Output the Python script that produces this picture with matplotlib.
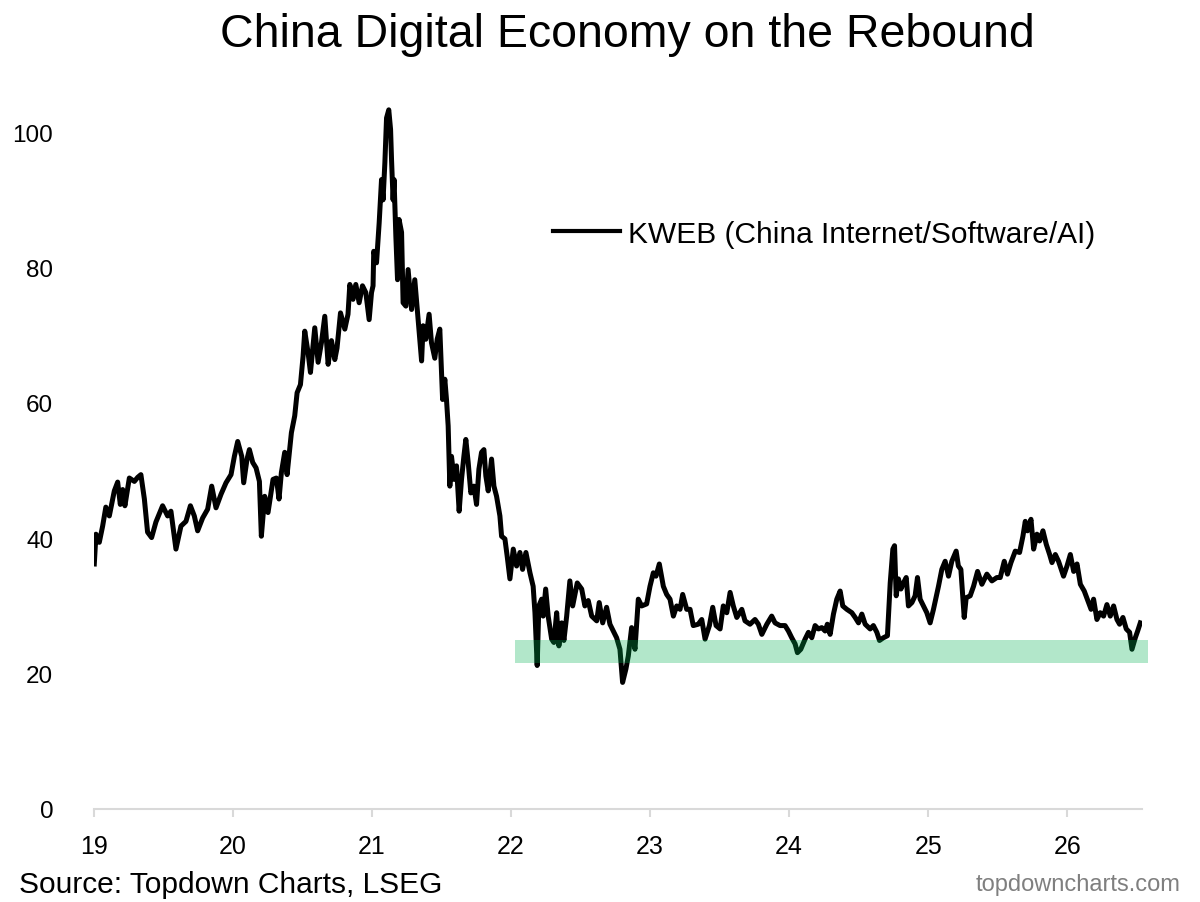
import matplotlib
matplotlib.use("Agg")
import matplotlib.pyplot as plt
from matplotlib.lines import Line2D

plt.rcParams['font.family'] = ['Liberation Sans', 'DejaVu Sans']

# ---- data (decimal year offsets since start of 2019, KWEB price) ----
t_offset = [
    0.005, 0.017, 0.041, 0.065, 0.088, 0.113, 0.149, 0.173, 0.192, 0.209,
    0.225, 0.257, 0.293, 0.317, 0.340, 0.365, 0.388, 0.417, 0.448, 0.496,
    0.532, 0.556, 0.592, 0.628, 0.664, 0.696, 0.724, 0.748, 0.784, 0.820,
    0.849, 0.880, 0.916, 0.952, 0.988, 1.012, 1.036, 1.065, 1.079, 1.103,
    1.120, 1.144, 1.168, 1.192, 1.206, 1.230, 1.254, 1.290, 1.314, 1.333,
    1.350, 1.374, 1.391, 1.422, 1.446, 1.463, 1.487, 1.506, 1.518, 1.542,
    1.559, 1.590, 1.614, 1.638, 1.662, 1.686, 1.710, 1.734, 1.750, 1.775,
    1.806, 1.829, 1.842, 1.865, 1.885, 1.909, 1.933, 1.957, 1.981, 1.998,
    2.009, 2.014, 2.034, 2.053, 2.070, 2.081, 2.094, 2.106, 2.122, 2.135,
    2.142, 2.153, 2.160, 2.173, 2.185, 2.196, 2.214, 2.225, 2.245, 2.261,
    2.286, 2.309, 2.333, 2.358, 2.369, 2.388, 2.412, 2.429, 2.453, 2.470,
    2.489, 2.509, 2.525, 2.537, 2.549, 2.561, 2.573, 2.592, 2.609, 2.628,
    2.645, 2.662, 2.676, 2.693, 2.712, 2.734, 2.753, 2.770, 2.789, 2.806,
    2.820, 2.837, 2.861, 2.878, 2.897, 2.921, 2.933, 2.957, 2.973, 2.993,
    3.017, 3.041, 3.065, 3.084, 3.108, 3.137, 3.160, 3.173, 3.189, 3.201,
    3.221, 3.232, 3.250, 3.268, 3.293, 3.309, 3.329, 3.345, 3.365, 3.381,
    3.401, 3.424, 3.444, 3.477, 3.509, 3.532, 3.556, 3.581, 3.617, 3.635,
    3.660, 3.688, 3.712, 3.736, 3.760, 3.784, 3.803, 3.827, 3.844, 3.868,
    3.892, 3.916, 3.940, 3.976, 4.000, 4.024, 4.043, 4.067, 4.096, 4.120,
    4.144, 4.168, 4.192, 4.216, 4.235, 4.264, 4.288, 4.311, 4.347, 4.372,
    4.396, 4.427, 4.451, 4.475, 4.504, 4.527, 4.552, 4.576, 4.599, 4.624,
    4.660, 4.683, 4.719, 4.755, 4.779, 4.804, 4.840, 4.875, 4.899, 4.935,
    4.971, 4.995, 5.019, 5.043, 5.060, 5.084, 5.115, 5.139, 5.163, 5.187,
    5.211, 5.235, 5.259, 5.275, 5.295, 5.319, 5.343, 5.367, 5.386, 5.415,
    5.451, 5.475, 5.499, 5.523, 5.547, 5.583, 5.606, 5.631, 5.650, 5.678,
    5.707, 5.727, 5.746, 5.758, 5.770, 5.786, 5.804, 5.822, 5.842, 5.858,
    5.883, 5.906, 5.923, 5.942, 5.966, 5.990, 6.014, 6.038, 6.074, 6.098,
    6.122, 6.146, 6.170, 6.201, 6.217, 6.235, 6.259, 6.273, 6.302, 6.326,
    6.355, 6.386, 6.422, 6.458, 6.494, 6.518, 6.547, 6.570, 6.595, 6.626,
    6.657, 6.681, 6.698, 6.714, 6.739, 6.758, 6.782, 6.801, 6.825, 6.849,
    6.873, 6.890, 6.914, 6.937, 6.973, 6.998, 7.022, 7.046, 7.070, 7.094,
    7.122, 7.153, 7.171, 7.189, 7.213, 7.237, 7.261, 7.285, 7.309, 7.333,
    7.357, 7.376, 7.400, 7.424, 7.448, 7.465, 7.489, 7.506, 7.525,
]
kweb = [
    36.2, 40.6, 39.4, 41.8, 44.6, 43.3, 47.0, 48.3, 45.0, 47.2,
    44.8, 48.9, 48.4, 49.0, 49.4, 45.8, 40.9, 40.1, 42.4, 44.8,
    43.3, 44.0, 38.4, 41.8, 42.5, 44.8, 43.3, 41.1, 43.0, 44.3,
    47.7, 44.5, 46.5, 48.2, 49.4, 52.1, 54.3, 52.1, 48.2, 51.7,
    53.1, 51.2, 50.4, 48.4, 40.3, 46.2, 43.8, 48.7, 48.9, 45.8,
    49.7, 52.7, 49.4, 55.6, 58.1, 61.5, 62.7, 66.9, 70.6, 67.4,
    64.5, 71.1, 66.0, 68.9, 72.8, 65.7, 69.2, 66.4, 68.1, 73.3,
    70.9, 73.1, 77.5, 75.3, 77.5, 74.8, 77.3, 76.3, 72.3, 76.3,
    77.3, 82.4, 80.7, 86.6, 93.0, 90.0, 95.5, 102.1, 103.3, 100.4,
    95.9, 90.0, 93.0, 84.6, 78.2, 87.1, 85.2, 74.8, 74.3, 79.7,
    73.8, 78.2, 72.3, 66.2, 71.4, 69.4, 73.1, 68.9, 66.6, 69.4,
    70.9, 60.5, 63.5, 60.5, 56.6, 47.7, 52.1, 48.7, 50.7, 44.0,
    48.7, 52.1, 54.6, 51.2, 46.7, 47.7, 45.0, 50.2, 52.7, 53.1,
    49.2, 47.0, 51.7, 47.7, 46.2, 43.3, 40.3, 39.9, 37.4, 34.0,
    38.4, 35.9, 37.9, 35.4, 37.9, 34.9, 32.9, 29.0, 21.2, 30.0,
    31.0, 28.5, 32.5, 28.5, 25.1, 24.6, 29.0, 24.1, 27.5, 24.9,
    28.5, 33.7, 30.0, 33.4, 32.5, 30.0, 30.8, 28.5, 27.8, 30.5,
    27.5, 29.8, 27.3, 26.3, 25.3, 23.6, 18.7, 20.7, 22.6, 26.8,
    23.6, 31.0, 30.0, 30.3, 32.9, 34.9, 34.4, 36.2, 32.9, 31.7,
    31.0, 28.5, 30.0, 29.5, 31.7, 29.5, 29.5, 27.1, 27.3, 28.0,
    25.1, 27.1, 29.8, 27.1, 26.6, 30.0, 29.0, 32.0, 30.0, 28.3,
    29.5, 27.8, 27.3, 28.0, 27.3, 25.8, 27.3, 28.5, 27.5, 27.1,
    27.1, 26.3, 25.3, 24.4, 23.1, 23.6, 25.1, 26.1, 25.3, 27.1,
    26.6, 26.8, 26.3, 27.3, 25.8, 28.8, 31.0, 32.2, 30.0, 29.5,
    29.0, 28.3, 27.5, 28.8, 27.3, 26.6, 27.1, 26.1, 24.9, 25.3,
    25.6, 33.4, 38.4, 38.9, 31.5, 34.0, 32.5, 33.4, 34.2, 30.0,
    30.5, 31.5, 34.2, 31.0, 30.0, 29.0, 27.5, 29.5, 32.9, 35.4,
    36.6, 34.4, 36.6, 38.1, 35.9, 35.4, 28.3, 31.2, 31.5, 32.9,
    35.1, 33.2, 34.7, 33.7, 34.2, 34.2, 36.6, 34.7, 36.4, 38.1,
    37.9, 40.3, 42.5, 41.1, 42.8, 38.4, 40.6, 39.6, 41.1, 39.1,
    37.6, 36.4, 37.6, 36.6, 34.4, 35.9, 37.6, 35.1, 36.2, 33.2,
    32.2, 30.5, 29.5, 31.0, 28.0, 29.0, 28.5, 30.2, 28.5, 30.0,
    28.0, 27.3, 28.3, 26.6, 26.1, 23.6, 25.3, 26.3, 27.5,
]
start_year = 19
x_ticks = [19, 20, 21, 22, 23, 24, 25, 26]
y_ticks = [0, 20, 40, 60, 80, 100]
band_x = [22.03, 26.58]
band_low, band_high = 21.5, 25.0

title = "China Digital Economy on the Rebound"
series_label = "KWEB (China Internet/Software/AI)"
source = "Source: Topdown Charts, LSEG"
brand = "topdowncharts.com"

x_vals = [start_year + t for t in t_offset]

fig = plt.figure(figsize=(12, 9.03), dpi=100)
ax = fig.add_axes([0.078, 0.103, 0.874, 0.787])

ax.plot(x_vals, kweb, color="black", lw=3.6, zorder=2, solid_joinstyle="round")
ax.fill_between(band_x, [band_low, band_low], [band_high, band_high],
                color="#00b050", alpha=0.3, linewidth=0, zorder=3, clip_on=False)

ax.set_xlim(19, 26.54)
ax.set_ylim(0, 105)
ax.set_xticks(x_ticks)
ax.set_xticklabels([str(v) for v in x_ticks])
ax.set_yticks(y_ticks)

for s in ["top", "right", "left"]:
    ax.spines[s].set_visible(False)
ax.spines["bottom"].set_color("#d9d9d9")
ax.spines["bottom"].set_linewidth(1.5)

ax.tick_params(axis="x", length=6, width=1.5, color="#d9d9d9",
               labelsize=18, pad=12, labelcolor="black")
ax.tick_params(axis="y", length=0, labelsize=17.5, pad=29, labelcolor="black")

handle = Line2D([], [], color="black", lw=3)
ax.legend([handle], [series_label], frameon=False, fontsize=21.5,
          loc="center left", bbox_to_anchor=(0.461, 0.740),
          bbox_transform=fig.transFigure, handlelength=2.24,
          handletextpad=0.27, borderaxespad=0, borderpad=0)

fig.text(0.523, 0.961, title, ha="center", va="center", fontsize=33.5)
fig.text(0.016, 0.020, source, ha="left", va="center", fontsize=21.5)
fig.text(0.984, 0.020, brand, ha="right", va="center", fontsize=17,
         color="#7f7f7f")

fig.savefig("out.png", dpi=100)
